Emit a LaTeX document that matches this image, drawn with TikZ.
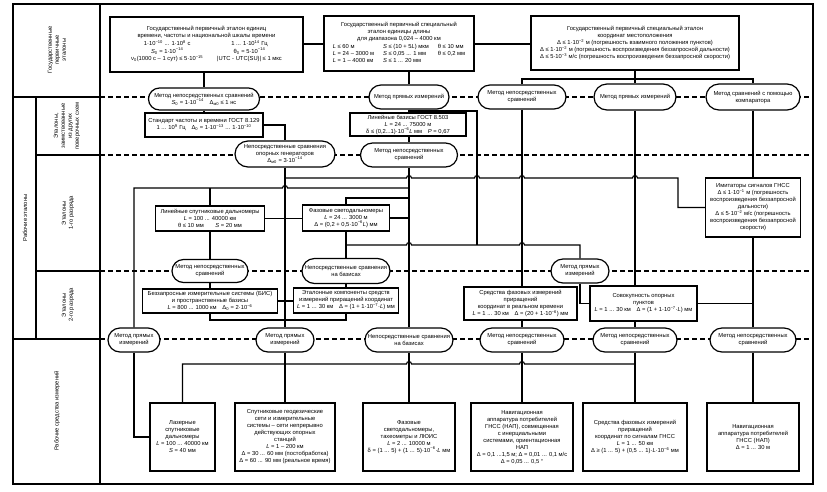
\documentclass[tikz,border=0pt]{standalone}
\usepackage{fontspec}
\setmainfont{Liberation Sans}
\usetikzlibrary{calc,shapes.misc}
\def\upx#1{\textsuperscript{#1}}
\def\dnx#1{\textsubscript{#1}}
\def\hop(#1,#2){-- ($(#1 |- #2)+(-2.5,0)$) arc[start angle=180, end angle=0, radius=2.5pt]}

\begin{document}
\begin{tikzpicture}[x=1pt, y=-1pt,
  every node/.style={font=\fontsize{5.8}{7}\selectfont, align=center, inner sep=1pt},
  topbox/.style={draw, line width=2pt, fill=white},
  stdbox/.style={draw, line width=1.3pt, fill=white},
  method/.style={draw, line width=1.2pt, fill=white, rounded rectangle, minimum height=24},
  conn/.style={line width=1.1pt},
  grid/.style={line width=1.1pt},
  level/.style={line width=1.1pt, dash pattern=on 5pt off 3pt}]
\useasboundingbox (0,0) rectangle (827,491);
\draw[grid] (13,4) rectangle (813,484);
\draw[grid] (100,4) -- (100,484);
\draw[grid] (36,97) -- (36,339);
\draw[grid] (13,97) -- (100,97);
\draw[grid] (36,155) -- (100,155);
\draw[grid] (36,271) -- (100,271);
\draw[grid] (13,339) -- (100,339);
\foreach \y in {97,155,271,339} \draw[level] (100,\y) -- (813,\y);
\node[rotate=90] (lblG) at (57,50) {Государственные\\первичные\\эталоны};
\node[rotate=90] (lblZ) at (67,126) {Эталоны,\\заимствованные\\из других\\поверочных схем};
\node[rotate=90] (lbl1) at (68,213) {Эталоны\\1-го разряда};
\node[rotate=90] (lbl2) at (68,305) {Эталоны\\2-го разряда};
\node[rotate=90] (lblR) at (25,218) {Рабочие эталоны};
\node[rotate=90] (lblS) at (57,411) {Рабочие средства измерений};
\coordinate (busC) at (0,79);
\coordinate (busK) at (0,111);
\coordinate (busS) at (0,178);
\coordinate (busM) at (0,188);
\coordinate (busG) at (0,198);
\coordinate (busP) at (0,245);
\coordinate (busR) at (0,320);
\coordinate (busW) at (0,364);
\coordinate (colK) at (477,0);
\coordinate (colH) at (678,0);
\node[topbox, minimum width=193, minimum height=55] (gpeT) at (206.5,44.5) {Государственный первичный эталон единиц\\времени, частоты и национальной шкалы времени\\[1pt]
\begin{tabular}{@{}c@{\hspace{14pt}}c@{}}
1·10\upx{−10} ... 1·10\upx{8} с & 1 ... 1·10\upx{14} Гц\\
\textit{S}\dnx{0} = 1·10\upx{−14} & θ\dnx{0} = 5·10\upx{−14}\\
ν\dnx{0}(1000 с – 1 сут) ≤ 5·10\upx{−15} & |UTC - UTC(SU)| ≤ 1 мкс
\end{tabular}};
\node[topbox, minimum width=150, minimum height=55] (gpeL) at (399,43.5) {Государственный первичный специальный\\эталон единицы длины\\для диапазона 0,024 – 4000 км\\[1pt]
\begin{tabular}{@{}l@{\hspace{9pt}}l@{\hspace{9pt}}l@{}}
\textit{L} ≤ 60 м & \textit{S} ≤ (10 + 5\textit{L}) мкм & θ ≤ 10 мм\\
\textit{L} = 24 – 3000 м & \textit{S} ≤ 0,05 ... 1 мм & θ ≤ 0,2 мм\\
\textit{L} = 1 – 4000 км & \textit{S} ≤ 1 ... 20 мм &
\end{tabular}};
\node[topbox, minimum width=208, minimum height=54] (gpeC) at (635,43) {Государственный первичный специальный эталон\\координат местоположения\\Δ ≤ 1·10\upx{−2} м (погрешность взаимного положения пунктов)\\Δ ≤ 1·10\upx{−2} м (погрешность воспроизведения беззапросной дальности)\\Δ ≤ 5·10\upx{−3} м/с (погрешность воспроизведения беззапросной скорости)};
\node[method, minimum width=113, minimum height=22] (m1) at (204,99) {Метод непосредственных сравнений\\\textit{S}\dnx{0} = 1·10\upx{−14}\quad Δ\dnx{м0} ≤ 1 нс};
\node[method, minimum width=82] (m2) at (409,97) {Метод прямых измерений};
\node[method, minimum width=90] (m3) at (522,97) {Метод непосредственных\\сравнений};
\node[method, minimum width=84, minimum height=26] (m4) at (635,97) {Метод прямых измерений};
\node[method, minimum width=96, minimum height=26] (m5) at (753,97) {Метод сравнений с помощью\\компаратора};
\node[stdbox, minimum width=118, minimum height=24] (std) at (204,125) {Стандарт частоты и времени ГОСТ 8.129\\1 ... 10\upx{9} Гц\quad Δ\dnx{0} = 1·10\upx{−13} ... 1·10\upx{−10}};
\node[stdbox, minimum width=116, minimum height=23] (bas) at (408,124.5) {Линейные базисы ГОСТ 8.503\\\textit{L} = 24 ... 75000 м\\δ ≤ (0,2...1)·10\upx{−6}\textit{L} мм\quad \textit{P} = 0,67};
\node[method, minimum width=102, minimum height=26] (m6) at (285,154) {Непосредственные сравнения\\опорных генераторов\\Δ\dnx{м0} = 3·10\upx{−14}};
\node[method, minimum width=99] (m7) at (409,155) {Метод непосредственных\\сравнений};
\node[stdbox, minimum width=109, minimum height=25] (lsd) at (210,218.5) {Линейные спутниковые дальномеры\\\textit{L} = 100 ... 40000 км\\θ ≤ 10 мм\qquad \textit{S} = 20 мм};
\node[stdbox, minimum width=87, minimum height=26] (fsd) at (346,218) {Фазовые светодальномеры\\\textit{L} = 24 ... 3000 м\\Δ = (0,2 + 0,5·10\upx{−6}\textit{L}) мм};
\node[stdbox, minimum width=95, minimum height=59] (imit) at (753,207.5) {Имитаторы сигналов ГНСС\\Δ ≤ 1·10\upx{−1} м (погрешность\\воспроизведения беззапросной\\дальности)\\Δ ≤ 5·10\upx{−2} м/с (погрешность\\воспроизведения беззапросной\\скорости)};
\node[method, minimum width=78, minimum height=23] (m8) at (210,271) {Метод непосредственных\\сравнений};
\node[method, minimum width=90, minimum height=25] (m9) at (346,271) {Непосредственные сравнения\\на базисах};
\node[method, minimum width=60] (m10) at (580,271) {Метод прямых\\измерений};
\node[stdbox, minimum width=135, minimum height=24] (bis) at (210,301) {Беззапросные измерительные системы (БИС)\\и пространственные базисы\\\textit{L} = 800 ... 1000 км\quad Δ\dnx{0} = 2·10\upx{−6}};
\node[stdbox, minimum width=105, minimum height=25] (ekc) at (346,300.5) {Эталонные компоненты средств\\измерений приращений координат\\\textit{L} = 1 ... 30 км\quad Δ = (1 + 1·10\upx{−7}·\textit{L}) мм};
\node[stdbox, minimum width=113, minimum height=33] (sfi) at (520.5,303.5) {Средства фазовых измерений\\приращений\\координат в реальном времени\\\textit{L} = 1 ... 30 км\quad Δ = (20 + 1·10\upx{−6}) мм};
\node[stdbox, minimum width=107, minimum height=35] (sop) at (643.5,303.5) {Совокупность опорных\\пунктов\\\textit{L} = 1 ... 30 км\quad Δ = (1 + 1·10\upx{−7}·\textit{L}) мм};
\node[method, minimum width=54] (m11) at (134,340) {Метод прямых\\измерений};
\node[method, minimum width=60] (m12) at (285,340) {Метод прямых\\измерений};
\node[method, minimum width=90] (m13) at (409,340) {Непосредственные сравнения\\на базисах};
\node[method, minimum width=86] (m14) at (522,340) {Метод непосредственных\\сравнений};
\node[method, minimum width=86] (m15) at (635,340) {Метод непосредственных\\сравнений};
\node[method, minimum width=88] (m16) at (753,340) {Метод непосредственных\\сравнений};
\node[stdbox, minimum width=65, minimum height=68] (w1) at (182.5,437) {Лазерные\\спутниковые\\дальномеры\\\textit{L} = 100 ... 40000 км\\\textit{S} = 40 мм};
\node[stdbox, minimum width=100, minimum height=68] (w2) at (285,437) {Спутниковые геодезические\\сети и измерительные\\системы – сети непрерывно\\действующих опорных\\станций\\\textit{L} = 1 – 200 км\\Δ = 30 ... 60 мм (постобработка)\\Δ = 60 ... 90 мм (реальное время)};
\node[stdbox, minimum width=92, minimum height=68] (w3) at (409,437) {Фазовые\\светодальномеры,\\тахеометры и ЛЮИС\\\textit{L} = 2 ... 10000 м\\δ = (1 ... 5) + (1 ... 5)·10\upx{−6}·\textit{L} мм};
\node[stdbox, minimum width=102, minimum height=68] (w4) at (522,437) {Навигационная\\аппаратура потребителей\\ГНСС (НАП), совмещенная\\с инерциальными\\системами, ориентационная\\НАП\\Δ = 0,1 ...1,5 м; Δ = 0,01 ... 0,1 м/с\\Δ = 0,05 ... 0,5 °};
\node[stdbox, minimum width=104, minimum height=68] (w5) at (635,437) {Средства фазовых измерений\\приращений\\координат по сигналам ГНСС\\\textit{L} = 1 ... 50 км\\Δ ≥ (1 ... 5) + (0,5 ... 1)·\textit{L}·10\upx{−6} мм};
\node[stdbox, minimum width=92, minimum height=68] (w6) at (753,437) {Навигационная\\аппаратура потребителей\\ГНСС (НАП)\\Δ = 1 ... 30 м};
\draw[conn] (gpeT.east |- 0,44) -- (gpeL.west |- 0,44);
\draw[conn] (gpeL.east |- 0,44) -- (gpeC.west |- 0,44);
\draw[conn] (m1 |- gpeT.south) -- (m1.north);
\draw[conn] (m1.south) -- (m1 |- std.north);
\draw[conn] (std.east) -| (m6.north);
\draw[conn] (m2 |- gpeL.south) -- (m2.north);
\draw[conn] (m2.south) -- (m2 |- bas.north);
\draw[conn] (m2 |- bas.south) -- (m7.north);
\draw[conn] (m2 |- busK) -- (colK |- busK) -- (colK |- busP);
\draw[conn] (gpeC.south) -- (m4.north);
\draw[conn] (m3.north) -- (m3 |- busC) -- (m5 |- busC) -- (m5.north);
\draw[conn] (m3.south) -- (m3 |- sfi.north);
\draw[conn] (m4.south) -- (m4 |- sop.north);
\draw[conn] (m5.south) -- (imit.north);
\draw[conn] (imit.south) -- (m16.north);
\draw[conn] (m16.south) -- (w6.north);
\draw[conn] (sop.east) -- (m16 |- sop.east);
\draw[conn] (m6.south) -- (m12.north);
\draw[conn] (m12.south) -- (w2.north);
\draw[conn] (m6 |- busS) \hop(m7,busS) \hop(colK,busS) \hop(m3,busS) \hop(m4,busS) -- (colH |- busS) |- (imit.west);
\draw[conn] (m7.south) -- (m13.north);
\draw[conn] (m13.south) -- (w3.north);
\draw[conn] (m11.north) -- (m11 |- busM) -- (lsd |- busM) \hop(m6,busM) -- (m7 |- busM);
\draw[conn] (lsd |- busM) -- (lsd.north);
\draw[conn] (fsd.north) |- (m7 |- busG);
\draw[conn] (fsd.east) -- (m7 |- fsd.east);
\draw[conn] (lsd.east) -- (lsd.east -| fsd.west);
\draw[conn] (lsd.south) -- (m8.north);
\draw[conn] (m8.south) -- (bis.north);
\draw[conn] (fsd.south) -- (m9.north);
\draw[conn] (m9.south) -- (ekc.north);
\draw[conn] (fsd |- busP) \hop(m7,busP) -- (colK |- busP) \hop(m3,busP) -- (m10 |- busP) -- (m10.north);
\draw[conn] (m10.south) |- (sop.west);
\draw[conn] (bis.east) -- (bis.east -| ekc.west);
\draw[conn] (bis.south) |- (ekc |- busR) -- (ekc.south);
\draw[conn] (m11.south) |- (w1.west);
\draw[conn] (w1.north) -- (w1 |- busW) -- (m12 |- busW) \hop(m13,busW) \hop(m14,busW) -- (m15 |- busW);
\draw[conn] (m14 |- sfi.south) -- (m14.north);
\draw[conn] (m14.south) -- (w4.north);
\draw[conn] (m15 |- sop.south) -- (m15.north);
\draw[conn] (m15.south) -- (w5.north);
\end{tikzpicture}
\end{document}
